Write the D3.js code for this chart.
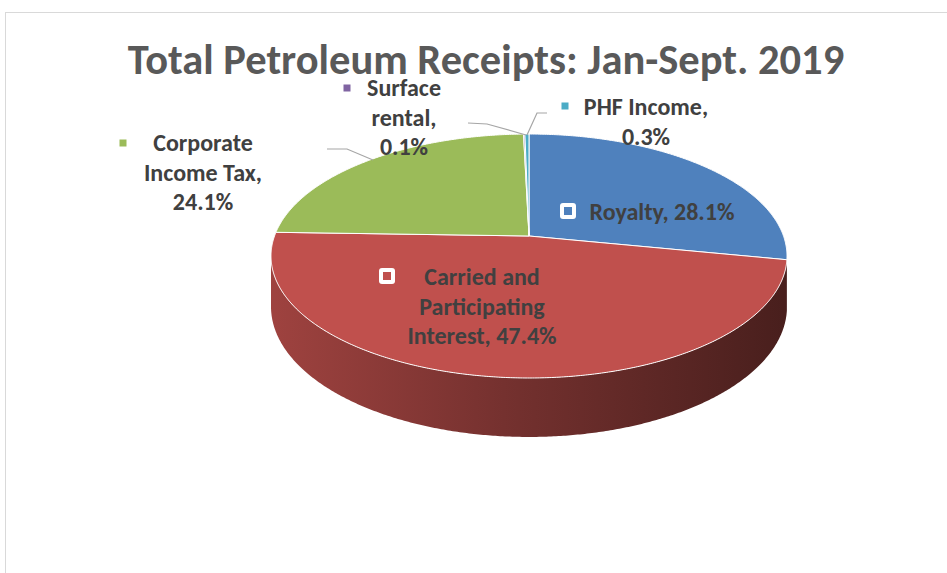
<!DOCTYPE html>
<html>
<head>
<meta charset="utf-8">
<script src="https://cdn.jsdelivr.net/npm/d3@7/dist/d3.min.js"></script>
<style>
  body { margin: 0; background: #fff; }
  text { font-family: Carlito, "Liberation Sans Narrow", "Liberation Sans", sans-serif; font-weight: bold; }
</style>
</head>
<body>
<div id="chart"></div>
<script>
// data
const categories = ["Royalty", "Carried and Participating Interest", "Corporate Income Tax", "Surface rental", "PHF Income"];
const shares = [28.1, 47.4, 24.1, 0.1, 0.3];
const colors = ["#4f81bd", "#c0504d", "#9bbb59", "#8064a2", "#4bacc6"];
// how each data label wraps
const labelLines = [
  ["Royalty, 28.1%"],
  ["Carried and", "Participating", "Interest, 47.4%"],
  ["Corporate", "Income Tax,", "24.1%"],
  ["Surface", "rental,", "0.1%"],
  ["PHF Income,", "0.3%"]
];

var width = 947, height = 573;

var svg = d3.select("#chart").append("svg")
    .attr("width", width)
    .attr("height", height);

// chart area border
svg.append("rect")
    .attr("x", 5.5).attr("y", 12.5)
    .attr("width", 1000).attr("height", 1000)
    .attr("fill", "none")
    .attr("stroke", "#d9d9d9");

svg.append("text")
    .attr("x", 486).attr("y", 74)
    .attr("text-anchor", "middle")
    .style("font-size", "42.5px")
    .style("fill", "#595959")
    .text("Total Petroleum Receipts: Jan-Sept. 2019");

// 3d projection of the pie disc (a bit of perspective, back is smaller)
var cx = 529, cy = 236, A = 254.5, B = 118.7, k = 0.164, D = 49.3;
function proj(a, drop) {
  var u = Math.sin(a), v = Math.cos(a), w = 1 + k * v;
  return [cx + A * u / w, cy - B * v / w + (drop ? D / w : 0)];
}
function rim(a0, a1, drop) {
  var n = Math.max(2, Math.ceil((a1 - a0) / 0.008)), pts = [];
  for (var i = 0; i <= n; i++) pts.push(proj(a0 + (a1 - a0) * i / n, drop));
  return pts;
}

var pie = d3.pie().sort(null).value(function(d){ return d; });
var arcs = pie(shares);

var defs = svg.append("defs");
arcs.forEach(function(d, i){
  var c = d3.color(colors[i]);
  var g = defs.append("linearGradient")
      .attr("id", "side" + i)
      .attr("gradientUnits", "userSpaceOnUse")
      .attr("x1", cx - A).attr("x2", cx + A)
      .attr("y1", 0).attr("y2", 0);
  g.append("stop").attr("offset", "0%").attr("stop-color", c.darker(0.55));
  g.append("stop").attr("offset", "45%").attr("stop-color", c.darker(1.4));
  g.append("stop").attr("offset", "100%").attr("stop-color", c.darker(2.7));
});

// visible front wall spans between the silhouette angles
var sL = Math.acos(-k), sR = 2 * Math.PI - Math.acos(-k);
var line = d3.line();
var sides = svg.append("g");
arcs.forEach(function(d, i){
  var a0 = Math.max(d.startAngle, sL), a1 = Math.min(d.endAngle, sR);
  if (a1 <= a0) return;
  var pts = rim(a0, a1, false).concat(rim(a0, a1, true).reverse());
  sides.append("path")
      .attr("d", line(pts) + "Z")
      .attr("fill", "url(#side" + i + ")");
});

var tops = svg.append("g");
arcs.forEach(function(d, i){
  var pts = [[cx, cy]].concat(rim(d.startAngle, d.endAngle, false));
  tops.append("path")
      .attr("d", line(pts) + "Z")
      .attr("fill", colors[i])
      .attr("stroke", "#fff")
      .attr("stroke-width", 1)
      .attr("stroke-linejoin", "round");
});

// labels: anchor x, first baseline, marker pos, marker style (inside or outside)
var labelPos = [
  {x: 662, y: 220, mx: 568, my: 211, inside: true},
  {x: 482, y: 285, mx: 387, my: 276, inside: true},
  {x: 203, y: 151, mx: 123, my: 143, inside: false},
  {x: 404, y: 96, mx: 347, my: 88, inside: false},
  {x: 646, y: 115, mx: 565, my: 106, inside: false}
];
var leaders = [null, null,
  [[327, 149], [347, 149], [373, 160]],
  [[468, 123], [487, 124], [526, 135]],
  [[547, 113], [537, 113], [527, 135]]
];

var labels = svg.append("g");
arcs.forEach(function(d, i){
  var p = labelPos[i];
  if (leaders[i]) {
    labels.append("path")
        .attr("d", line(leaders[i]))
        .attr("fill", "none")
        .attr("stroke", "#a6a6a6")
        .attr("stroke-width", 1.2);
  }
  if (p.inside) {
    labels.append("rect")
        .attr("x", p.mx - 8).attr("y", p.my - 8)
        .attr("width", 16).attr("height", 16).attr("rx", 3)
        .attr("fill", "#fff");
    labels.append("rect")
        .attr("x", p.mx - 4).attr("y", p.my - 4)
        .attr("width", 8).attr("height", 8)
        .attr("fill", colors[i]);
  } else {
    labels.append("rect")
        .attr("x", p.mx - 3.5).attr("y", p.my - 3.5)
        .attr("width", 7).attr("height", 7)
        .attr("fill", colors[i]);
  }
  labels.append("text")
      .attr("x", p.x).attr("y", p.y)
      .attr("text-anchor", "middle")
      .style("font-size", "24px")
      .style("fill", "#404040")
      .selectAll("tspan")
      .data(labelLines[i])
      .enter().append("tspan")
        .attr("x", p.x)
        .attr("dy", function(t, j){ return j ? 29.5 : 0; })
        .text(function(t){ return t; });
});
</script>
</body>
</html>
